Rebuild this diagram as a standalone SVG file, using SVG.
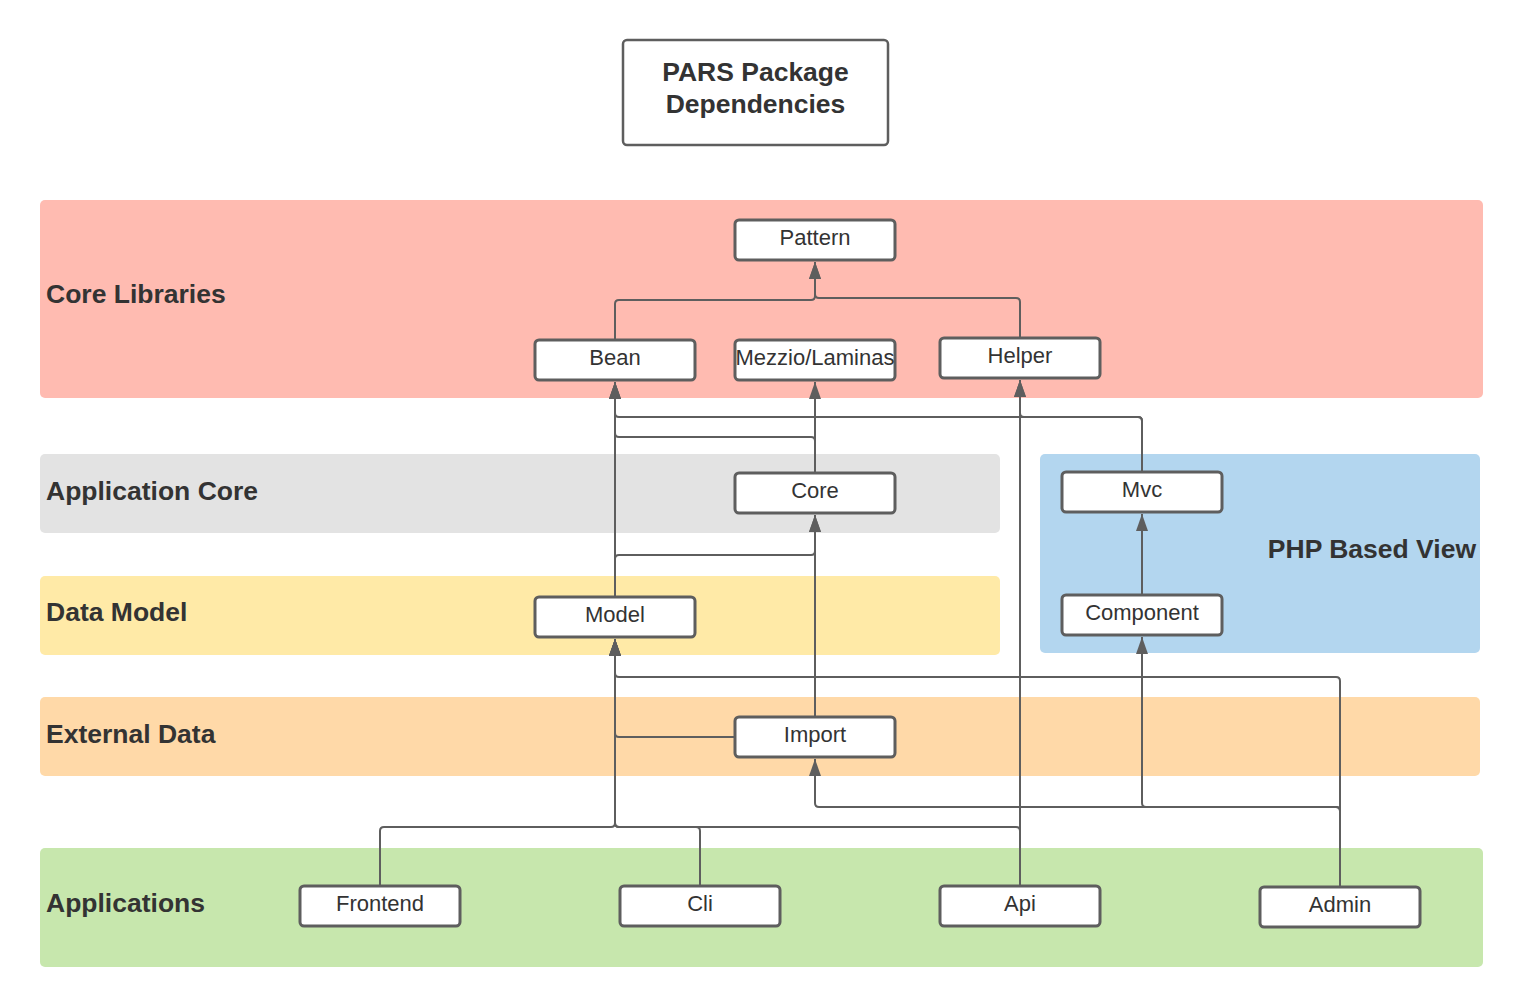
<svg xmlns="http://www.w3.org/2000/svg" width="1523" height="1008" viewBox="0 0 1523 1008">
<style>
.lane{stroke:none}
.lt{font-family:"Liberation Sans",Arial,sans-serif;font-weight:bold;font-size:26.5px;fill:#333333}
.node rect{fill:#ffffff;stroke:#5e5e5e;stroke-width:3}
.nt{font-family:"Liberation Sans",Arial,sans-serif;font-size:22px;fill:#333333;text-anchor:middle}
.e{fill:none;stroke:#5e5e5e;stroke-width:2;marker-end:url(#ah)}
</style>
<defs>
<marker id="ah" markerUnits="userSpaceOnUse" markerWidth="18" markerHeight="14" refX="17" refY="6" orient="auto">
<path d="M0,0 L17,6 L0,12 z" fill="#5e5e5e"/>
</marker>
</defs>
<rect width="1523" height="1008" fill="#ffffff"/>
<g id="lanes">
<rect class="lane" x="40" y="200" width="1443" height="198" rx="5" fill="#ffbbb1"/>
<rect class="lane" x="40" y="454" width="960" height="79" rx="5" fill="#e3e3e3"/>
<rect class="lane" x="1040" y="454" width="440" height="199" rx="5" fill="#b3d6ef"/>
<rect class="lane" x="40" y="576" width="960" height="79" rx="5" fill="#ffeaa7"/>
<rect class="lane" x="40" y="697" width="1440" height="79" rx="5" fill="#ffd9a8"/>
<rect class="lane" x="40" y="848" width="1443" height="119" rx="5" fill="#c7e7ad"/>
<text class="lt" x="46" y="303">Core Libraries</text>
<text class="lt" x="46" y="500">Application Core</text>
<text class="lt" x="1476" y="558" text-anchor="end">PHP Based View</text>
<text class="lt" x="46" y="621">Data Model</text>
<text class="lt" x="46" y="743">External Data</text>
<text class="lt" x="46" y="912">Applications</text>
</g>
<g id="title" class="node">
<rect x="623" y="40" width="265" height="105" rx="4" style="stroke-width:2.5"/>
<text class="lt" x="755.5" y="81" text-anchor="middle">PARS Package</text>
<text class="lt" x="755.5" y="113" text-anchor="middle">Dependencies</text>
</g>
<g id="connectors">
<path class="e" d="M615,340 V304 Q615,300 619,300 H811 Q815,300 815,296 V262"/>
<path class="e" d="M1020,338 V302 Q1020,298 1016,298 H819 Q815,298 815,294 V262"/>
<path class="e" d="M1142,472 V421 Q1142,417 1138,417 H619 Q615,417 615,413 V382"/>
<path class="e" d="M1142,472 V421 Q1142,417 1138,417 H1024 Q1020,417 1020,413 V380"/>
<path class="e" d="M815,473 V382"/>
<path class="e" d="M815,473 V441 Q815,437 811,437 H619 Q615,437 615,433 V382"/>
<path class="e" d="M615,597 V382"/>
<path class="e" d="M615,597 V559 Q615,555 619,555 H811 Q815,555 815,551 V515"/>
<path class="e" d="M815,717 V515"/>
<path class="e" d="M735,737 H619 Q615,737 615,733 V639"/>
<path class="e" d="M1340,887 V681 Q1340,677 1336,677 H619 Q615,677 615,673 V639"/>
<path class="e" d="M1340,887 V811 Q1340,807 1336,807 H819 Q815,807 815,803 V759"/>
<path class="e" d="M1340,887 V811 Q1340,807 1336,807 H1146 Q1142,807 1142,803 V637"/>
<path class="e" d="M380,886 V831 Q380,827 384,827 H611 Q615,827 615,823 V639"/>
<path class="e" d="M700,886 V831 Q700,827 696,827 H619 Q615,827 615,823 V639"/>
<path class="e" d="M1020,886 V831 Q1020,827 1016,827 H619 Q615,827 615,823 V639"/>
<path class="e" d="M1020,886 V380"/>
<path class="e" d="M1142,595 V514"/>
</g>
<g id="pattern" class="node"><rect x="735" y="220" width="160" height="40" rx="4"/><text class="nt" x="815" y="245">Pattern</text></g>
<g id="bean" class="node"><rect x="535" y="340" width="160" height="40" rx="4"/><text class="nt" x="615" y="365">Bean</text></g>
<g id="mezzio" class="node"><rect x="735" y="340" width="160" height="40" rx="4"/><text class="nt" x="815" y="365">Mezzio/Laminas</text></g>
<g id="helper" class="node"><rect x="940" y="338" width="160" height="40" rx="4"/><text class="nt" x="1020" y="363">Helper</text></g>
<g id="core" class="node"><rect x="735" y="473" width="160" height="40" rx="4"/><text class="nt" x="815" y="498">Core</text></g>
<g id="mvc" class="node"><rect x="1062" y="472" width="160" height="40" rx="4"/><text class="nt" x="1142" y="497">Mvc</text></g>
<g id="model" class="node"><rect x="535" y="597" width="160" height="40" rx="4"/><text class="nt" x="615" y="622">Model</text></g>
<g id="component" class="node"><rect x="1062" y="595" width="160" height="40" rx="4"/><text class="nt" x="1142" y="620">Component</text></g>
<g id="import" class="node"><rect x="735" y="717" width="160" height="40" rx="4"/><text class="nt" x="815" y="742">Import</text></g>
<g id="frontend" class="node"><rect x="300" y="886" width="160" height="40" rx="4"/><text class="nt" x="380" y="911">Frontend</text></g>
<g id="cli" class="node"><rect x="620" y="886" width="160" height="40" rx="4"/><text class="nt" x="700" y="911">Cli</text></g>
<g id="api" class="node"><rect x="940" y="886" width="160" height="40" rx="4"/><text class="nt" x="1020" y="911">Api</text></g>
<g id="admin" class="node"><rect x="1260" y="887" width="160" height="40" rx="4"/><text class="nt" x="1340" y="912">Admin</text></g>
</svg>
